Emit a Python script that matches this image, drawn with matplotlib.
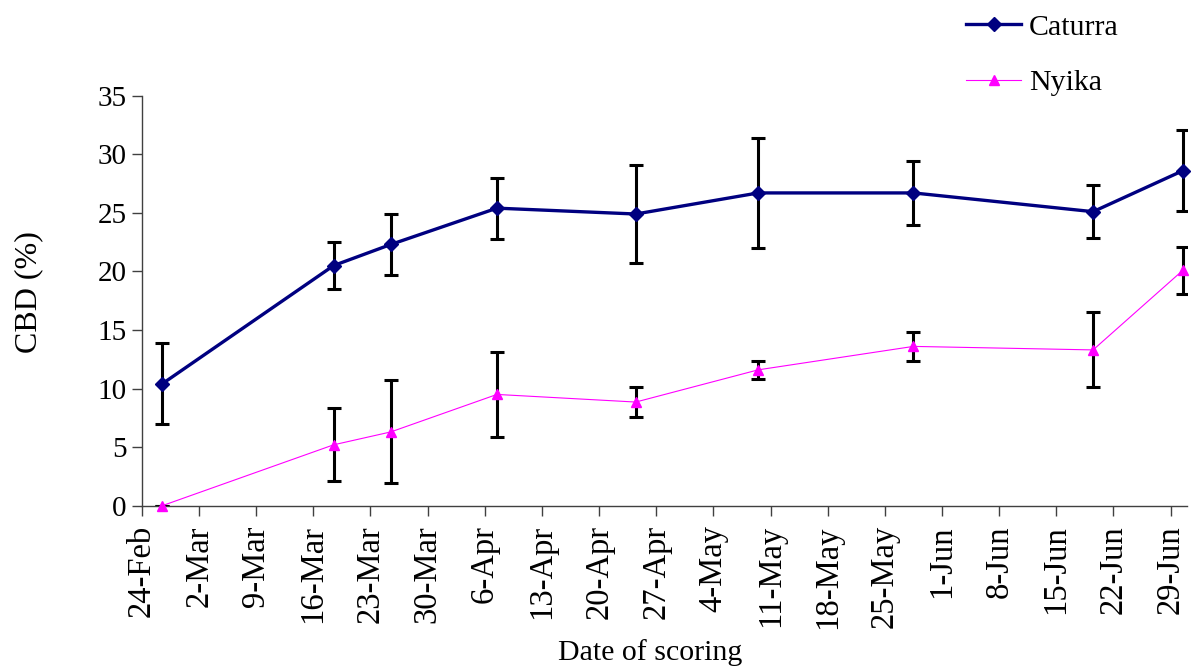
import matplotlib
matplotlib.use("Agg")
import matplotlib.pyplot as plt
import pandas as pd

# Scoring dates and CBD incidence (mean ± error) for the two cultivars
scoring_dates = ["2004-02-26", "2004-03-18", "2004-03-25", "2004-04-07", "2004-04-24",
                 "2004-05-09", "2004-05-28", "2004-06-19", "2004-06-30"]
caturra_cbd = [10.4, 20.5, 22.3, 25.4, 24.9, 26.7, 26.7, 25.1, 28.6]
caturra_err = [3.45, 2.0, 2.6, 2.6, 4.15, 4.7, 2.75, 2.25, 3.45]
nyika_cbd = [0.0, 5.2, 6.3, 9.5, 8.85, 11.6, 13.6, 13.3, 20.1]
nyika_err = [0.0, 3.1, 4.4, 3.6, 1.3, 0.75, 1.25, 3.2, 2.0]

axis_start = "2004-02-24"
axis_days = 128
tick_labels = ["24-Feb", "2-Mar", "9-Mar", "16-Mar", "23-Mar", "30-Mar", "6-Apr",
               "13-Apr", "20-Apr", "27-Apr", "4-May", "11-May", "18-May", "25-May",
               "1-Jun", "8-Jun", "15-Jun", "22-Jun", "29-Jun"]

plt.rcParams["font.family"] = ["Liberation Serif", "DejaVu Serif"]
plt.rcParams["font.size"] = 20

start = pd.Timestamp(axis_start)
# each date sits in the middle of its one-day slot on the axis
x = [(pd.Timestamp(d) - start).days + 0.5 for d in scoring_dates]
tick_pos = [7 * i for i in range(len(tick_labels))]

fig = plt.figure(figsize=(11.92, 6.71), dpi=100)
ax = fig.add_axes([0.1189, 0.2463, 0.8769, 0.6111])

ax.errorbar(x, caturra_cbd, yerr=caturra_err, fmt="none", ecolor="black",
            elinewidth=2.2, capsize=5, capthick=2.2, zorder=2)
ax.errorbar(x, nyika_cbd, yerr=nyika_err, fmt="none", ecolor="black",
            elinewidth=2.2, capsize=5, capthick=2.2, zorder=2)

ax.plot(x, caturra_cbd, color="#000080", lw=2.4, marker="D", ms=7.5,
        mfc="#000080", mec="#000080", label="Caturra", zorder=3, clip_on=False)
ax.plot(x, nyika_cbd, color="#FF00FF", lw=0.8, marker="^", ms=7,
        mfc="#FF00FF", mec="#FF00FF", label="Nyika", zorder=3, clip_on=False)

ax.set_xlim(0, axis_days)
ax.set_ylim(0, 35)
ax.set_yticks(range(0, 36, 5))
ax.set_xticks(tick_pos)
ax.set_xticklabels(tick_labels, rotation=90)

for side in ("top", "right"):
    ax.spines[side].set_visible(False)
for side in ("left", "bottom"):
    ax.spines[side].set_color("#404040")
    ax.spines[side].set_linewidth(1.0)
ax.tick_params(axis="both", direction="out", length=7, width=1.0, color="#404040")
ax.tick_params(axis="y", labelsize=21, pad=4)
ax.tick_params(axis="x", labelsize=23.5, pad=7)

ax.set_xlabel("Date of scoring", fontsize=21.5, va="top")
ax.xaxis.set_label_coords(0.486, -0.325)
ax.set_ylabel("CBD (%)", fontsize=23)
ax.yaxis.set_label_coords(-0.094, 0.52)

fig.legend(loc="upper left", bbox_to_anchor=(966 / 1192, 1 - 14 / 671),
           frameon=False, borderpad=0, borderaxespad=0, handlelength=1.85,
           handletextpad=0.25, labelspacing=0.95, fontsize=21.5)

fig.savefig("out.png", dpi=100)
